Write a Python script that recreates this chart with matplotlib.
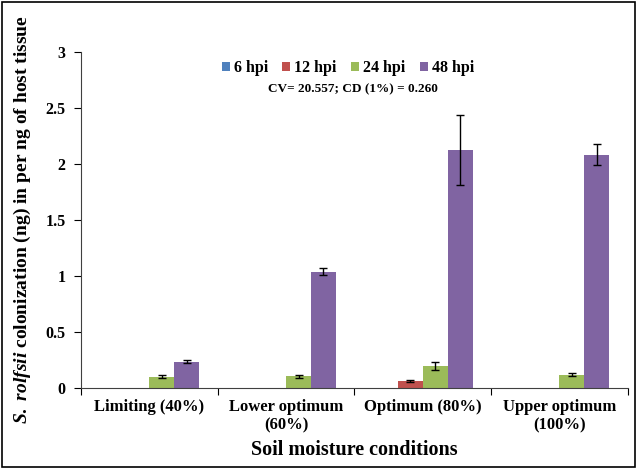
import matplotlib
matplotlib.use("Agg")
import matplotlib.pyplot as plt
import numpy as np
from matplotlib.patches import Rectangle

plt.rcParams['font.family'] = ['Liberation Serif', 'DejaVu Serif']
plt.rcParams['mathtext.fontset'] = 'custom'
plt.rcParams['mathtext.it'] = 'Liberation Serif:italic:bold'
plt.rcParams['mathtext.rm'] = 'Liberation Serif:bold'

categories = ["Limiting (40%)", "Lower optimum\n(60%)", "Optimum (80%)", "Upper optimum\n(100%)"]
series = ["6 hpi", "12 hpi", "24 hpi", "48 hpi"]
v6 = [0.0, 0.0, 0.0, 0.0]
v12 = [0.0, 0.0, 0.06, 0.0]
v24 = [0.10, 0.105, 0.195, 0.12]
v48 = [0.235, 1.04, 2.125, 2.085]
e6 = [0.0, 0.0, 0.0, 0.0]
e12 = [0.0, 0.0, 0.01, 0.0]
e24 = [0.012, 0.015, 0.035, 0.015]
e48 = [0.015, 0.03, 0.31, 0.09]
colors = ["#4F81BD", "#C0504D", "#9BBB59", "#8064A2"]

fig = plt.figure(figsize=(6.38, 4.69), dpi=100)
ax = fig.add_axes([0.127, 0.1727, 0.857, 0.7163])

x = np.arange(len(categories))
w = 0.182
vals = [v6, v12, v24, v48]
errs = [e6, e12, e24, e48]
for i, (vv, ee, c, s) in enumerate(zip(vals, errs, colors, series)):
    pos = x + (i - 1.5) * w
    ax.bar(pos, vv, w, color=c, label=s, zorder=2)
    show = [j for j in range(len(vv)) if vv[j] > 0]
    ax.errorbar(pos[show], np.array(vv)[show], yerr=np.array(ee)[show], fmt='none',
                ecolor='black', elinewidth=1, capsize=3, capthick=1, zorder=3)

ax.set_xlim(-0.5, 3.5)
ax.set_ylim(0, 3)
ax.set_yticks(np.arange(0, 3.01, 0.5))
ax.set_yticklabels(["0", "0.5", "1", "1.5", "2", "2.5", "3"], fontweight='bold', fontsize=11.5)
ax.set_xticks(np.arange(-0.5, 3.6, 1))
ax.set_xticklabels([])
ax.set_xticks(x, minor=True)
ax.set_xticklabels(categories, minor=True, fontweight='bold', fontsize=12)
ax.tick_params(axis='x', which='minor', length=0, pad=8)
ax.tick_params(axis='x', which='major', length=5, direction='out')
ax.tick_params(axis='y', length=5, direction='out', pad=6)
for sp in ['top', 'right']:
    ax.spines[sp].set_visible(False)
ax.spines['left'].set_color('#404040')
ax.spines['bottom'].set_color('#404040')

ax.set_xlabel("Soil moisture conditions", fontweight='bold', fontsize=14.5, labelpad=5)
ax.set_ylabel(r"$S.\ rolfsii$ colonization (ng) in per ng of host tissue",
              fontweight='bold', fontsize=14, labelpad=9)

leg = ax.legend(loc='center', bbox_to_anchor=(0.488, 0.952), ncol=4, frameon=False,
                prop={'weight': 'bold', 'size': 11.5}, handlelength=0.5, handleheight=0.5,
                handletextpad=0.25, columnspacing=0.9)
ax.text(0.497, 0.890, "CV= 20.557; CD (1%) = 0.260", transform=ax.transAxes,
        ha='center', va='center', fontweight='bold', fontsize=9.5)

fig.patches.append(Rectangle((0.003, 0.004), 0.993, 0.992, transform=fig.transFigure,
                             fill=False, edgecolor='black', linewidth=1.2))

fig.savefig("out.png", dpi=100)
